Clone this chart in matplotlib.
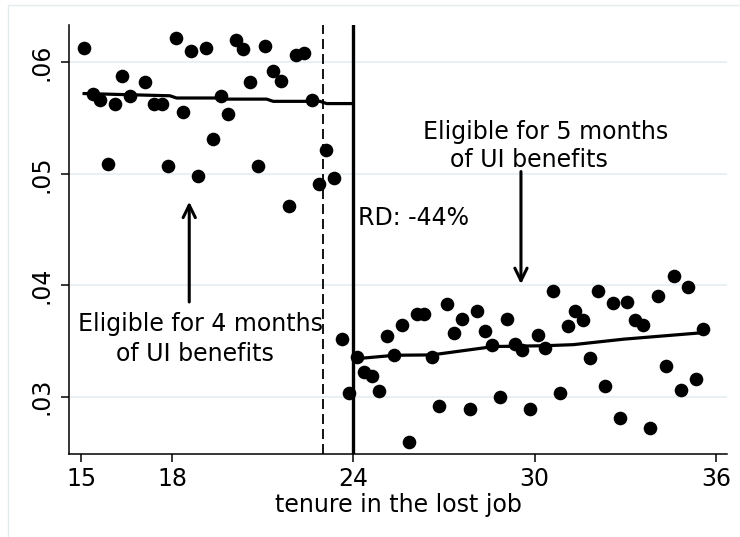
import matplotlib
matplotlib.use("Agg")
import matplotlib.pyplot as plt
from matplotlib.patches import Rectangle

plt.rcParams['font.family'] = ['DejaVu Sans']
plt.rcParams['lines.scale_dashes'] = False

# binned means, left of the cutoff (eligible for 4 months)
left_x = [15.09, 15.37, 15.61, 15.87, 16.11, 16.36, 16.61, 17.10, 17.41, 17.66,
          17.87, 18.12, 18.37, 18.63, 18.87, 19.11, 19.34, 19.62, 19.86, 20.11,
          20.35, 20.59, 20.84, 21.09, 21.33, 21.62, 21.86, 22.10, 22.38, 22.62,
          22.86, 23.11, 23.35, 23.62, 23.87]
left_y = [.0613, .0572, .0566, .0509, .0563, .0588, .0570, .0582, .0563, .0563,
          .0507, .0622, .0555, .0610, .0498, .0613, .0531, .0570, .0554, .0620,
          .0612, .0582, .0507, .0615, .0592, .0583, .0471, .0607, .0608, .0566,
          .0491, .0521, .0496, .0352, .0303]

# binned means, right of the cutoff (eligible for 5 months)
right_x = [24.11, 24.36, 24.63, 24.86, 25.11, 25.36, 25.60, 25.85, 26.10, 26.35,
           26.60, 26.84, 27.09, 27.33, 27.59, 27.86, 28.11, 28.36, 28.60, 28.86,
           29.10, 29.34, 29.59, 29.84, 30.12, 30.36, 30.61, 30.85, 31.11, 31.35,
           31.60, 31.85, 32.09, 32.34, 32.59, 32.83, 33.07, 33.33, 33.58, 33.82,
           34.07, 34.35, 34.60, 34.84, 35.09, 35.35, 35.59]
right_y = [.0336, .0322, .0319, .0305, .03545, .0337, .0364, .0259, .0374, .0374,
           .0336, .0292, .0383, .0357, .0370, .0289, .0377, .0359, .0346, .0300,
           .0370, .0347, .0342, .0289, .0355, .0344, .0395, .0303, .0363, .0377,
           .0369, .0335, .0395, .0310, .0384, .0281, .0385, .0369, .0364, .0272,
           .0390, .0328, .0408, .0306, .0398, .0316, .0361]

# fitted lines
left_fit_x = [15.09, 17.93, 18.15, 19.59, 19.81, 21.13, 21.35, 22.90, 23.12, 23.95]
left_fit_y = [.0572, .0570, .0568, .0568, .0567, .0567, .0565, .0565, .0563, .0563]
right_fit_x = [24.06, 25.38, 26.60, 28.64, 30.40, 31.28, 32.94, 35.59]
right_fit_y = [.0334, .03372, .03375, .0345, .03458, .03467, .03516, .03575]

x_ticks = [15, 18, 24, 30, 36]
y_ticks = [.03, .04, .05, .06]
y_labels = ['.03', '.04', '.05', '.06']

cutoff = 24
placebo = 23

fig = plt.figure(figsize=(7.40, 5.37), dpi=100)
fig.patches.append(Rectangle((8 / 740, -0.1), 1.2, 1 - 5 / 537 + 0.1,
                             transform=fig.transFigure, fill=False,
                             edgecolor='#e3ebee', lw=1.0))
ax = fig.add_axes([69.3 / 740, 83 / 537, (726.7 - 69.3) / 740, (454 - 25) / 537])

for y in y_ticks:
    ax.axhline(y, color='#e4eef1', lw=1.2, zorder=0)

ax.plot(left_x, left_y, 'o', color='black', ms=9.8, mec='none', zorder=3)
ax.plot(right_x, right_y, 'o', color='black', ms=9.8, mec='none', zorder=3)
ax.plot(left_fit_x, left_fit_y, color='black', lw=2.3, zorder=4)
ax.plot(right_fit_x, right_fit_y, color='black', lw=2.3, zorder=4)

ax.axvline(cutoff, color='black', lw=2.4, zorder=2)
ax.axvline(placebo, color='black', lw=1.3, dashes=(7.2, 3.6), zorder=2)

fs = 17
ax.text(24.17, .0454, 'RD: -44%', fontsize=fs, ha='left', va='baseline')
ax.text(18.94, .0359, 'Eligible for 4 months', fontsize=fs, ha='center', va='baseline')
ax.text(18.76, .0332, 'of UI benefits', fontsize=fs, ha='center', va='baseline')
ax.text(30.37, .0531, 'Eligible for 5 months', fontsize=fs, ha='center', va='baseline')
ax.text(29.83, .0506, 'of UI benefits', fontsize=fs, ha='center', va='baseline')

arrow = dict(arrowstyle='->,head_length=0.45,head_width=0.22', lw=2.2,
             color='black', shrinkA=0, shrinkB=0, mutation_scale=20)
ax.annotate('', xy=(18.57, .0475), xytext=(18.57, .0385), arrowprops=arrow)
ax.annotate('', xy=(29.55, .0401), xytext=(29.55, .0502), arrowprops=arrow)

ax.set_xlim(14.60, 36.36)
ax.set_ylim(0.02486, 0.06335)
ax.set_xticks(x_ticks)
ax.set_xticklabels([str(t) for t in x_ticks])
ax.set_yticks(y_ticks)
ax.set_yticklabels(y_labels, rotation=90, va='center')
ax.tick_params(axis='both', labelsize=fs, length=5.5, width=1.1, direction='out')
ax.tick_params(axis='x', pad=4)
ax.tick_params(axis='y', pad=6)
ax.set_xlabel('tenure in the lost job', fontsize=fs, labelpad=1)

for side in ['top', 'right']:
    ax.spines[side].set_visible(False)
for side in ['left', 'bottom']:
    ax.spines[side].set_linewidth(1.1)

fig.savefig('out.png', dpi=100)
